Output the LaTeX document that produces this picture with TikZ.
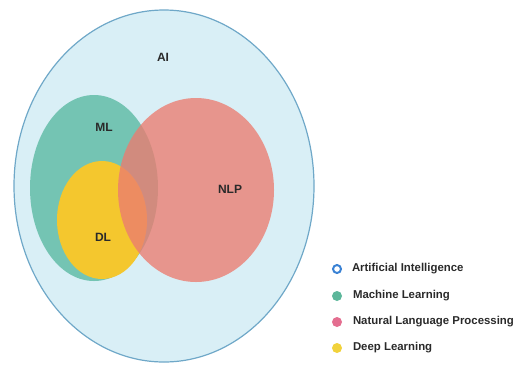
\documentclass[tikz,border=0pt]{standalone}
\usepackage{fontspec}
\setmainfont{Liberation Sans}
\usetikzlibrary{positioning}
\definecolor{aiFill}{HTML}{D9EFF6}
\definecolor{aiLine}{HTML}{6FA8C8}
\definecolor{mlFill}{HTML}{74C4B3}
\definecolor{dlFill}{HTML}{F4C72E}
\definecolor{nlpFill}{HTML}{EC7C70}
\definecolor{keyBlue}{HTML}{3A82D4}
\definecolor{keyTeal}{HTML}{5DB79B}
\definecolor{keyPink}{HTML}{E46E90}
\definecolor{keyYellow}{HTML}{F1D23C}
\definecolor{vennInk}{HTML}{2A2A2A}
\tikzset{
  venn diagram/.style={
    x=1pt, y=-1pt,
    every node/.style={text=vennInk, inner sep=0pt, outer sep=0pt}
  },
  venn label/.style={font=\fontsize{12}{14}\selectfont\bfseries},
  key dot/.style={circle, minimum size=10pt},
  key text/.style={font=\fontsize{11.4}{13}\selectfont\bfseries,
    anchor=west, text=vennInk}
}

\begin{document}
\begin{tikzpicture}[venn diagram]
    \useasboundingbox (0,0) rectangle (518,368);
    % sets
    \draw[fill=aiFill, draw=aiLine, line width=1.2pt] (164,186) ellipse [x radius=150, y radius=176];
    \fill[mlFill] (94,188) ellipse [x radius=64, y radius=93];
    \fill[dlFill] (102,220) ellipse [x radius=45, y radius=59];
    \fill[nlpFill, opacity=0.78] (196,190) ellipse [x radius=78, y radius=92];
    \node[venn label] (ai) at (163,57) {AI};
    \node[venn label] (ml) at (104,127) {ML};
    \node[venn label] (dl) at (103,237) {DL};
    \node[venn label] (nlp) at (230,189) {NLP};
    % legend
    \node[key dot, draw=keyBlue, line width=2pt, minimum size=8pt] (kai) at (337,269) {};
    \node[key dot, fill=keyTeal] (kml) at (337,296) {};
    \node[key dot, fill=keyPink] (knlp) at (337,322) {};
    \node[key dot, fill=keyYellow] (kdl) at (337,348) {};
    \node[key text, right=11pt of kai] (tai) {Artificial Intelligence};
    \node[key text, right=11pt of kml] (tml) {Machine Learning};
    \node[key text, right=11pt of knlp] (tnlp) {Natural Language Processing};
    \node[key text, right=11pt of kdl] (tdl) {Deep Learning};
  \end{tikzpicture}
\end{document}
